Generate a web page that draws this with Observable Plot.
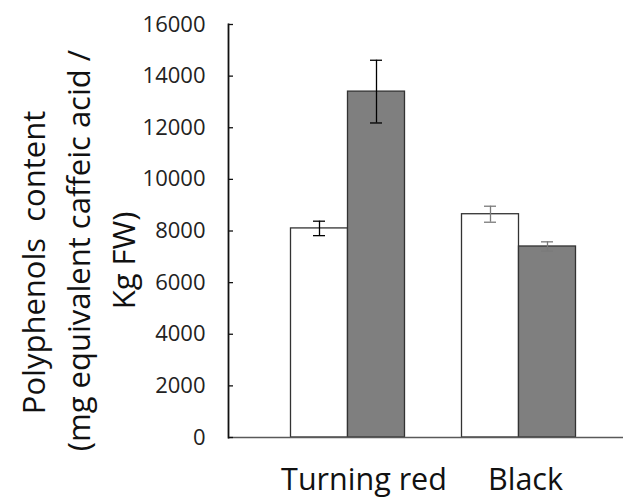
<!DOCTYPE html>
<html>
<head>
<meta charset="utf-8">
<script src="https://cdn.jsdelivr.net/npm/d3@7"></script>
<script src="https://cdn.jsdelivr.net/npm/@observablehq/plot@0.6"></script>
<style>
  html, body { margin: 0; padding: 0; background: #fff; }
  #chart svg { display: block; }
</style>
</head>
<body>
<div id="chart"></div>
<script>
// ---- data ----
const categories = ["Turning red", "Black"];
const seriesNames = ["Series 1", "Series 2"];
const series1 = [8100, 8650];   // white bars
const series2 = [13400, 7400];  // gray bars
const err1 = [280, 310];
const err2 = [1215, 180];
const yTicks = [0, 2000, 4000, 6000, 8000, 10000, 12000, 14000, 16000];
const yTitleLines = ["Polyphenols  content", "(mg equivalent caffeic acid /", "Kg FW)"];

const rows1 = categories.map((c, i) => ({cat: c, series: seriesNames[0], v: series1[i], e: err1[i]}));
const rows2 = categories.map((c, i) => ({cat: c, series: seriesNames[1], v: series2[i], e: err2[i]}));

const font = "'Open Sans', 'DejaVu Sans', sans-serif";
const W = 623, H = 499, ML = 228, MR = 0;
const frameW = W - ML - MR;
const errColor = d => d.cat === categories[0] ? "#000" : "#7a7a7a";

const chart = Plot.plot({
  width: W,
  height: H,
  marginTop: 24,
  marginBottom: 62,
  marginLeft: ML,
  marginRight: MR,
  style: {fontFamily: font, color: "#222", background: "#fff"},
  x: {type: "band", domain: categories, range: [261.5, 603.5], padding: 0, axis: null},
  y: {domain: [0, 16000], axis: null, label: null},
  marks: [
    // bars
    Plot.barY(rows1, {x: "cat", y: "v", fill: "#fff", stroke: "#333", strokeWidth: 1.3, insetLeft: 28.5, insetRight: 85.5}),
    Plot.barY(rows2, {x: "cat", y: "v", fill: "#7f7f7f", stroke: "#333", strokeWidth: 1.3, insetLeft: 85.5, insetRight: 28.5}),
    // error bars
    Plot.ruleX(rows1, {x: "cat", y1: d => d.v - d.e, y2: d => d.v + d.e, dx: -28.5, stroke: errColor, strokeWidth: 1.3}),
    Plot.ruleX(rows2, {x: "cat", y1: d => d.v - d.e, y2: d => d.v + d.e, dx: 28.5, stroke: errColor, strokeWidth: 1.3}),
    Plot.tickY(rows1, {x: "cat", y: d => d.v + d.e, insetLeft: 51, insetRight: 108, stroke: errColor, strokeWidth: 1.3}),
    Plot.tickY(rows1, {x: "cat", y: d => d.v - d.e, insetLeft: 51, insetRight: 108, stroke: errColor, strokeWidth: 1.3}),
    Plot.tickY(rows2, {x: "cat", y: d => d.v + d.e, insetLeft: 108, insetRight: 51, stroke: errColor, strokeWidth: 1.3}),
    Plot.tickY(rows2, {x: "cat", y: d => d.v - d.e, insetLeft: 108, insetRight: 51, stroke: errColor, strokeWidth: 1.3}),
    // baseline
    Plot.ruleY([0], {stroke: "#595959", strokeWidth: 1.6}),
    // y axis line & inner ticks
    Plot.frame({anchor: "left", stroke: "#111", strokeWidth: 1.8}),
    Plot.tickY(yTicks, {y: d => d, insetRight: frameW - 5, stroke: "#111", strokeWidth: 1.3}),
    // y tick labels
    Plot.axisY({ticks: yTicks, tickSize: 0, tickPadding: 23, tickFormat: "d", fontSize: 22, fill: "#222", label: null}),
    // x category labels
    Plot.text([categories[0]], {x: d => d, text: d => d, frameAnchor: "bottom", textAnchor: "middle", lineAnchor: "top", dy: 31, dx: 16, fontSize: 30.5, fill: "#111"}),
    Plot.text([categories[1]], {x: d => d, text: d => d, frameAnchor: "bottom", textAnchor: "middle", lineAnchor: "top", dy: 31, dx: 6.5, fontSize: 30.5, fill: "#111"}),
    // y axis title (three lines)
    Plot.text([yTitleLines[0]], {text: d => d, frameAnchor: "left", textAnchor: "middle", lineAnchor: "middle", rotate: -90, dx: -193, dy: 31.5, fontSize: 31, fill: "#111"}),
    Plot.text([yTitleLines[1]], {text: d => d, frameAnchor: "left", textAnchor: "middle", lineAnchor: "middle", rotate: -90, dx: -148, dy: 19.5, fontSize: 31, fill: "#111"}),
    Plot.text([yTitleLines[2]], {text: d => d, frameAnchor: "left", textAnchor: "middle", lineAnchor: "middle", rotate: -90, dx: -103, dy: 29.5, fontSize: 31, fill: "#111"})
  ]
});
document.getElementById("chart").appendChild(chart);
</script>
</body>
</html>
